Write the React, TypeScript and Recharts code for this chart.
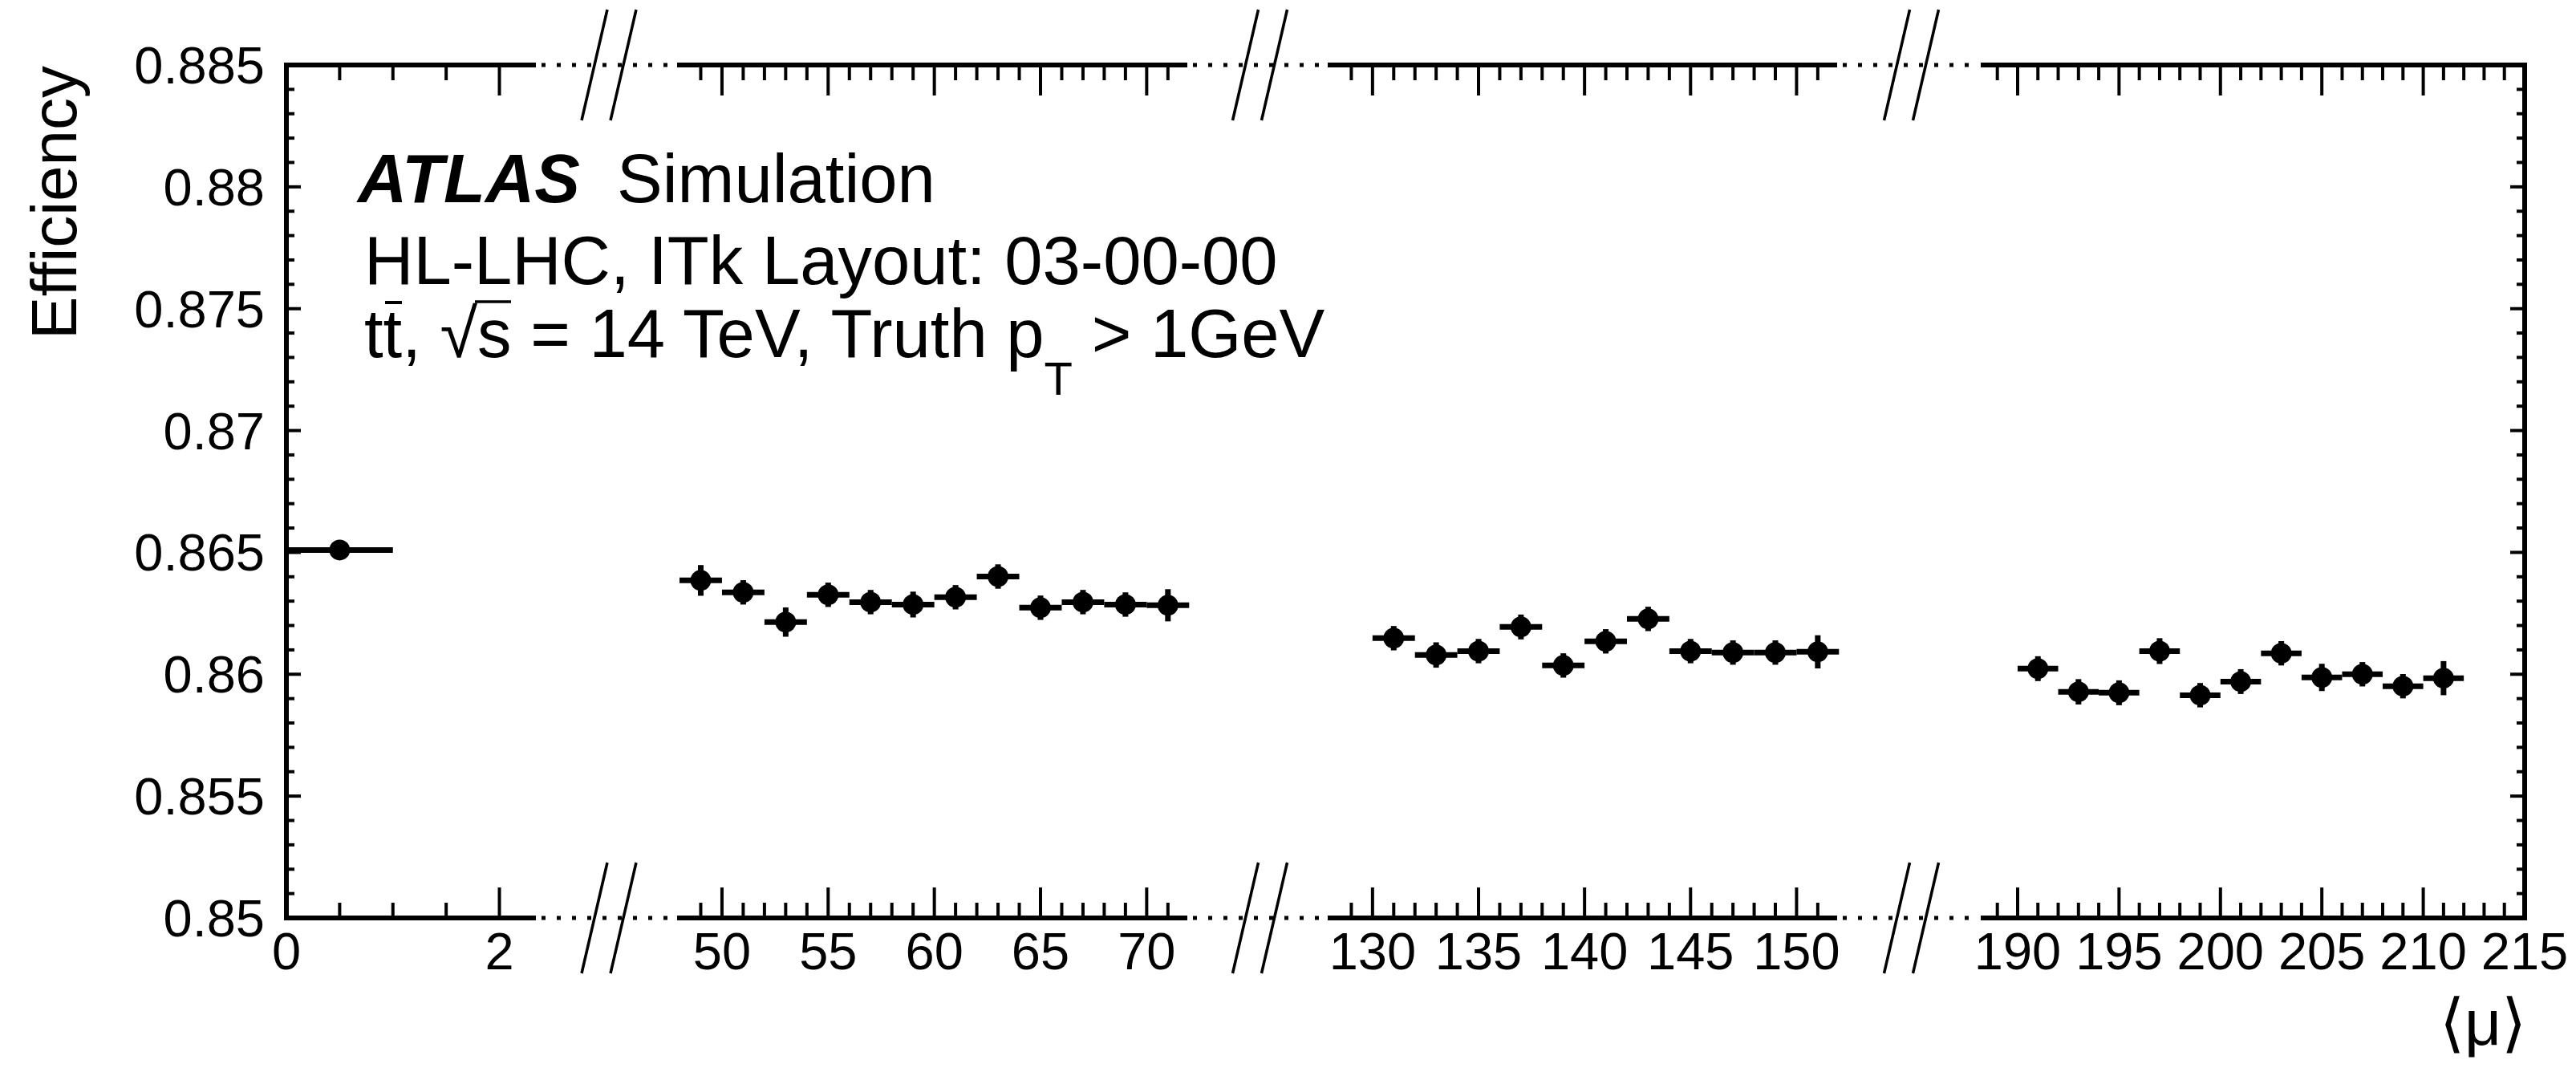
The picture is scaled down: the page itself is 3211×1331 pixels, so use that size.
import React from 'react';
import { ScatterChart, Scatter, XAxis, YAxis, ErrorBar } from 'recharts';

// ---------------- data ----------------
const muLow = [0.5];
const effLow = [0.8651];
const errLow = [0.0001];

const mu50 = [49, 51, 53, 55, 57, 59, 61, 63, 65, 67, 69, 71];
const eff50 = [0.86385, 0.86336, 0.86214, 0.86326, 0.86296, 0.86286, 0.86316, 0.86401, 0.86273, 0.86296, 0.86286, 0.86283];
const err50 = [0.00063, 0.0005, 0.0006, 0.0005, 0.0005, 0.00053, 0.0005, 0.0005, 0.0005, 0.0005, 0.0005, 0.00066];

const mu140 = [131, 133, 135, 137, 139, 141, 143, 145, 147, 149, 151];
const eff140 = [0.86148, 0.86079, 0.86095, 0.86194, 0.86036, 0.86135, 0.86227, 0.86095, 0.86089, 0.86089, 0.86092];
const err140 = [0.0005, 0.00052, 0.0005, 0.00051, 0.0005, 0.0005, 0.0005, 0.0005, 0.0005, 0.0005, 0.00068];

const mu200 = [191, 193, 195, 197, 199, 201, 203, 205, 207, 209, 211];
const eff200 = [0.86023, 0.85928, 0.85924, 0.86095, 0.85914, 0.8597, 0.86086, 0.85987, 0.86, 0.85951, 0.85984];
const err200 = [0.00051, 0.00052, 0.00051, 0.00053, 0.0005, 0.00051, 0.0005, 0.00056, 0.0005, 0.0005, 0.0007];

const xMajorLow = [0, 2];
const xMajor50 = [50, 55, 60, 65, 70];
const xMajor140 = [130, 135, 140, 145, 150];
const xMajor200 = [190, 195, 200, 205, 210, 215];

const yMajor = [0.85, 0.855, 0.86, 0.865, 0.87, 0.875, 0.88, 0.885];
const yLabels = ['0.85', '0.855', '0.86', '0.865', '0.87', '0.875', '0.88', '0.885'];

// ---------------- layout ----------------
const OFFSET = 8;
const PLOT_TOP = 81;
const PLOT_BOTTOM = 1144;
const PLOT_H = PLOT_BOTTOM - PLOT_TOP;
const FONT = "'Liberation Sans', Arial, Helvetica, sans-serif";
const LINE_W = 6;
const TICK_W = 4;
const BAR_W = 7;
const MARKER_R = 13;

const rangeTicks = (from: number, to: number, step: number) => {
  const out: number[] = [];
  const n = Math.round((to - from) / step);
  for (let i = 0; i <= n; i++) out.push(Math.round((from + i * step) * 1000) / 1000);
  return out;
};

const yTicks = rangeTicks(0.85, 0.885, 0.001);

const build = (mu: number[], eff: number[], err: number[], half: number) =>
  mu.map((m, i) => ({ mu: m, eff: eff[i], ex: half, ey: err[i] }));

const SEGMENTS = [
  { key: 's1', px: [357, 665], domain: [0, 2.32], ticks: rangeTicks(0, 2, 0.5), majors: xMajorLow, data: build(muLow, effLow, errLow, 0.5), left: true, right: false },
  { key: 's2', px: [847, 1477], domain: [48, 71.8], ticks: rangeTicks(49, 71, 1), majors: xMajor50, data: build(mu50, eff50, err50, 1), left: false, right: false },
  { key: 's3', px: [1658, 2287], domain: [128, 151.8], ticks: rangeTicks(129, 151, 1), majors: xMajor140, data: build(mu140, eff140, err140, 1), left: false, right: false },
  { key: 's4', px: [2472, 3147], domain: [188.3, 215], ticks: rangeTicks(189, 215, 1), majors: xMajor200, data: build(mu200, eff200, err200, 1), left: false, right: true },
];

const isIn = (arr: number[], v: number) => arr.some((a) => Math.abs(a - v) < 1e-6);

const BottomTick = (props: any) => {
  const { x, y, payload, majors } = props;
  const v = payload.value;
  const major = isIn(majors, v);
  return (
    <g>
      <line x1={x} x2={x} y1={y} y2={y - (major ? 38 : 19)} stroke="#000" strokeWidth={TICK_W} />
      {major && (
        <text x={x} y={y + 64} textAnchor="middle" fontSize={65} fontFamily={FONT} fill="#000">
          {String(v)}
        </text>
      )}
    </g>
  );
};

const TopTick = (props: any) => {
  const { x, y, payload, majors } = props;
  const major = isIn(majors, payload.value);
  return <line x1={x} x2={x} y1={y} y2={y + (major ? 38 : 19)} stroke="#000" strokeWidth={TICK_W} />;
};

const LeftTick = (props: any) => {
  const { x, y, payload } = props;
  const v = payload.value;
  const idx = yMajor.findIndex((a) => Math.abs(a - v) < 1e-7);
  const major = idx >= 0;
  return (
    <g>
      <line x1={x} x2={x + (major ? 18 : 10)} y1={y} y2={y} stroke="#000" strokeWidth={TICK_W} />
      {major && (
        <text x={x - 27} y={y + 23} textAnchor="end" fontSize={65} fontFamily={FONT} fill="#000">
          {yLabels[idx]}
        </text>
      )}
    </g>
  );
};

const RightTick = (props: any) => {
  const { x, y, payload } = props;
  const major = isIn(yMajor, payload.value);
  return <line x1={x} x2={x - (major ? 18 : 10)} y1={y} y2={y} stroke="#000" strokeWidth={TICK_W} />;
};

const axisLine = { stroke: '#000', strokeWidth: LINE_W, strokeLinecap: 'square' as const };

const Dot = (props: any) => {
  const { cx, cy } = props;
  if (cx == null || cy == null) return null;
  return <circle cx={cx} cy={cy} r={MARKER_R} fill="#000" />;
};

function Segment({ seg }: { seg: any }) {
  const PAD_L = seg.left ? 300 : 40;
  const PAD_R = seg.right ? 60 : 40;
  const PAD_T = 40;
  const PAD_B = 100;
  const plotW = seg.px[1] - seg.px[0];
  const W = plotW + PAD_L + PAD_R;
  const H = PLOT_H + PAD_T + PAD_B;
  return (
    <div style={{ position: 'absolute', left: seg.px[0] - PAD_L - OFFSET, top: PLOT_TOP - PAD_T - OFFSET, width: W, height: H }}>
      <ScatterChart
        width={W}
        height={H}
        margin={{ top: 0, bottom: 0, left: seg.left ? 0 : PAD_L, right: seg.right ? 0 : PAD_R }}
      >
        <XAxis
          xAxisId="b"
          orientation="bottom"
          type="number"
          dataKey="mu"
          domain={seg.domain}
          ticks={seg.ticks}
          interval={0}
          allowDataOverflow
          height={PAD_B}
          tickSize={0}
          tickMargin={0}
          tickLine={false}
          axisLine={axisLine}
          tick={(p: any) => <BottomTick {...p} majors={seg.majors} />}
        />
        <XAxis
          xAxisId="t"
          orientation="top"
          type="number"
          dataKey="mu"
          domain={seg.domain}
          ticks={seg.ticks}
          interval={0}
          allowDataOverflow
          height={PAD_T}
          tickSize={0}
          tickMargin={0}
          tickLine={false}
          axisLine={axisLine}
          tick={(p: any) => <TopTick {...p} majors={seg.majors} />}
        />
        <YAxis
          yAxisId="l"
          orientation="left"
          type="number"
          dataKey="eff"
          domain={[0.85, 0.885]}
          ticks={yTicks}
          interval={0}
          allowDataOverflow
          width={PAD_L}
          hide={!seg.left}
          tickSize={0}
          tickMargin={0}
          tickLine={false}
          axisLine={axisLine}
          tick={(p: any) => <LeftTick {...p} />}
        />
        <YAxis
          yAxisId="r"
          orientation="right"
          type="number"
          dataKey="eff"
          domain={[0.85, 0.885]}
          ticks={yTicks}
          interval={0}
          allowDataOverflow
          width={PAD_R}
          hide={!seg.right}
          tickSize={0}
          tickMargin={0}
          tickLine={false}
          axisLine={axisLine}
          tick={(p: any) => <RightTick {...p} />}
        />
        <Scatter xAxisId="b" yAxisId="l" data={seg.data} dataKey="eff" fill="#000" isAnimationActive={false} shape={Dot}>
          <ErrorBar dataKey="ex" direction="x" width={0} stroke="#000" strokeWidth={BAR_W} isAnimationActive={false} />
          <ErrorBar dataKey="ey" direction="y" width={0} stroke="#000" strokeWidth={BAR_W} isAnimationActive={false} />
        </Scatter>
      </ScatterChart>
    </div>
  );
}

function Overlay() {
  const items: React.ReactNode[] = [];
  for (let i = 0; i < SEGMENTS.length - 1; i++) {
    const a = SEGMENTS[i].px[1];
    const b = SEGMENTS[i + 1].px[0];
    const c = (a + b) / 2 + 3;
    [PLOT_TOP, PLOT_BOTTOM].forEach((yy, k) => {
      items.push(
        <line key={`d${i}-${k}`} x1={a + 10} x2={b - 6} y1={yy} y2={yy} stroke="#000" strokeWidth={5} strokeDasharray="5 14" />
      );
      [-18, 18].forEach((o, m) => {
        items.push(
          <line key={`b${i}-${k}-${m}`} x1={c + o + 16} y1={yy - 69} x2={c + o - 16} y2={yy + 69} stroke="#000" strokeWidth={3.5} />
        );
      });
    });
  }
  return (
    <svg width={3211} height={1331} style={{ position: 'absolute', left: -OFFSET, top: -OFFSET, pointerEvents: 'none' }}>
      {items}
      <text transform={`translate(95, 82) rotate(-90)`} textAnchor="end" fontSize={80} fontFamily={FONT} fill="#000">
        Efficiency
      </text>
      <text x={446} y={252} fontSize={85} fontFamily={FONT} fontWeight="bold" fontStyle="italic" fill="#000">
        ATLAS
      </text>
      <text x={769} y={252} fontSize={85} fontFamily={FONT} fill="#000">
        Simulation
      </text>
      <text x={454} y={354} fontSize={85} fontFamily={FONT} fill="#000">
        HL-LHC, ITk Layout: 03-00-00
      </text>
      <text x={454} y={445} fontSize={85} fontFamily={FONT} fill="#000">
        <tspan>tt, √s = 14 TeV, Truth p</tspan>
        <tspan dy={47} fontSize={58}>T</tspan>
        <tspan dy={-47} fontSize={85}> &gt; 1GeV</tspan>
      </text>
      {/* bar over second t and radical overline over s */}
      <line x1={480} x2={501} y1={377} y2={377} stroke="#000" strokeWidth={4} />
      <line x1={592} x2={637} y1={376} y2={376} stroke="#000" strokeWidth={3.5} />
      <text x={3149} y={1302} textAnchor="end" fontSize={80} fontFamily={FONT} fill="#000">
        ⟨μ⟩
      </text>
    </svg>
  );
}

export default function App() {
  return (
    <div style={{ position: 'relative', width: 3195, height: 1315, overflow: 'hidden', background: '#fff' }}>
      {SEGMENTS.map((s) => (
        <Segment key={s.key} seg={s} />
      ))}
      <Overlay />
    </div>
  );
}
